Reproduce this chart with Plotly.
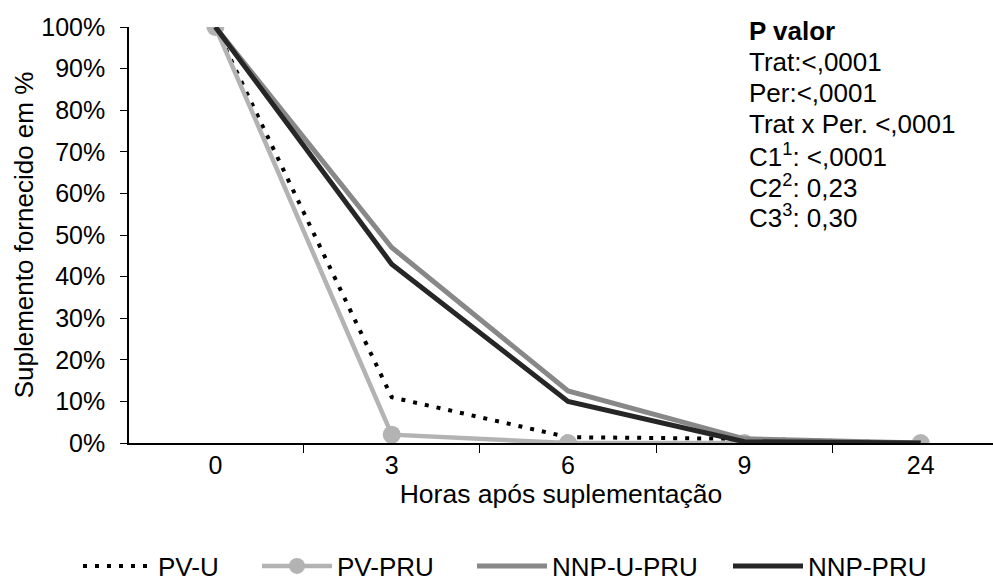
import plotly.graph_objects as go

categories = ["0", "3", "6", "9", "24"]
pv_u = [100, 11, 1.4, 1.0, 0]
pv_pru = [100, 2, 0, 0, 0]
nnp_u_pru = [100, 47, 12.5, 1.0, 0]
nnp_pru = [100, 43, 10, 0.3, 0]
y_ticks = [0, 10, 20, 30, 40, 50, 60, 70, 80, 90, 100]
y_ticktext = [f"{v}%" for v in y_ticks]

FONT = "Liberation Sans, Arial, sans-serif"

fig = go.Figure()
fig.add_trace(go.Scatter(x=categories, y=pv_u, name="PV-U", mode="lines", legend="legend",
                         line=dict(color="#000000", width=4, dash="4px,8px")))
fig.add_trace(go.Scatter(x=categories, y=pv_pru, name="PV-PRU", mode="lines+markers",
                         legend="legend2",
                         line=dict(color="#B3B3B3", width=4.5),
                         marker=dict(color="#B3B3B3", size=18)))
fig.add_trace(go.Scatter(x=categories, y=nnp_u_pru, name="NNP-U-PRU", mode="lines",
                         legend="legend3",
                         line=dict(color="#888888", width=5)))
fig.add_trace(go.Scatter(x=categories, y=nnp_pru, name="NNP-PRU", mode="lines",
                         legend="legend4",
                         line=dict(color="#262626", width=5)))

lines = [
    ("<b>P valor</b>", 31),
    ("Trat:<,0001", 62),
    ("Per:<,0001", 93),
    ("Trat x Per. <,0001", 124),
    ("C1<sup>1</sup>: <,0001", 155),
    ("C2<sup>2</sup>: 0,23", 186),
    ("C3<sup>3</sup>: 0,30", 217),
]
for txt, ypix in lines:
    fig.add_annotation(text=txt, xref="paper", yref="paper",
                       x=(747 - 129) / (993 - 129), y=1 - (ypix - 27) / (443 - 27),
                       xanchor="left", yanchor="middle", showarrow=False,
                       font=dict(family=FONT, size=26, color="black"))


def leg(symbol_start):
    return dict(orientation="h", x=(symbol_start - 5) / 993, xanchor="left",
                xref="container", y=17 / 583, yref="container", yanchor="middle",
                font=dict(family=FONT, size=26, color="black"),
                itemwidth=70, bgcolor="rgba(0,0,0,0)", borderwidth=0)


fig.update_layout(
    width=993, height=583,
    margin=dict(l=129, r=0, t=27, b=140),
    paper_bgcolor="white", plot_bgcolor="white",
    font=dict(family=FONT, size=25, color="black"),
    showlegend=True,
    legend=leg(83), legend2=leg(262), legend3=leg(477), legend4=leg(733),
)
fig.update_xaxes(type="category", range=[-0.49, 4.41], showline=True, linecolor="black",
                 linewidth=1.5, ticks="outside", tickson="boundaries", ticklen=8,
                 tickcolor="black", showgrid=False, zeroline=False, automargin=False,
                 ticklabelstandoff=-1,
                 title=dict(text="Horas após suplementação", standoff=0,
                            font=dict(family=FONT, size=26.5)),
                 tickfont=dict(family=FONT, size=25))
fig.update_yaxes(range=[0, 100], tickvals=y_ticks, ticktext=y_ticktext, showline=True,
                 linecolor="black", linewidth=1.5, ticks="outside", ticklen=7,
                 tickcolor="black", showgrid=False, zeroline=False, automargin=False,
                 ticklabelstandoff=10,
                 title=dict(text="Suplemento fornecido em %", standoff=0,
                            font=dict(family=FONT, size=26)),
                 tickfont=dict(family=FONT, size=25))

fig.write_html("out.html", post_script="document.body.style.margin='0';",
               config={"displayModeBar": False})
